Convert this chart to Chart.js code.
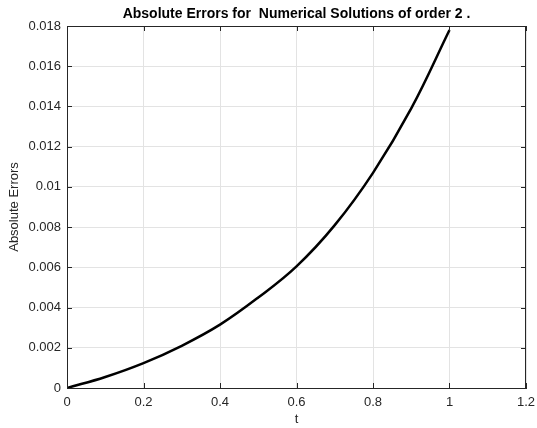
<!DOCTYPE html>
<html lang="en">
<head>
  <meta charset="UTF-8">
  <title>Absolute Errors</title>
  <style>
    body { margin: 0; background: #fff; }
    #wrap { width: 537px; height: 428px; }
  </style>
</head>
<body>
  <div id="wrap"><canvas id="grafico"></canvas></div>
  <script src="https://cdn.jsdelivr.net/npm/chart.js"></script>
  <script>
    // valores
    const tempos = [0, 0.1, 0.2, 0.3, 0.4, 0.5, 0.6, 0.7, 0.8, 0.9, 1.0];
    const erros = [0, 0.00055, 0.00124, 0.0021, 0.00315, 0.0045, 0.00605, 0.0081, 0.0107, 0.0139, 0.0178];
    const rotulosX = ['0', '0.2', '0.4', '0.6', '0.8', '1', '1.2'];
    const rotulosY = ['0', '0.002', '0.004', '0.006', '0.008', '0.01', '0.012', '0.014', '0.016', '0.018'];
    const titulo = 'Absolute Errors for  Numerical Solutions of order 2 .';

    const corEixo = '#262626';
    const fonte = 'Liberation Sans, Arial, sans-serif';

    // caixa, marcas internas e título estilo matlab
    const caixaMatlab = {
      id: 'caixaMatlab',
      afterDraw(chart) {
        const { ctx, chartArea: a, scales } = chart;
        ctx.save();
        ctx.strokeStyle = corEixo;
        ctx.lineWidth = 1;
        ctx.strokeRect(a.left + 0.5, a.top + 0.5, a.right - a.left - 1, a.bottom - a.top);
        ctx.beginPath();
        scales.x.ticks.forEach(t => {
          const px = Math.round(scales.x.getPixelForValue(t.value)) + 0.5;
          ctx.moveTo(px, a.bottom); ctx.lineTo(px, a.bottom - 5);
          ctx.moveTo(px, a.top); ctx.lineTo(px, a.top + 5);
        });
        scales.y.ticks.forEach(t => {
          const py = Math.round(scales.y.getPixelForValue(t.value)) + 0.5;
          ctx.moveTo(a.left, py); ctx.lineTo(a.left + 5, py);
          ctx.moveTo(a.right, py); ctx.lineTo(a.right - 5, py);
        });
        ctx.stroke();
        ctx.fillStyle = '#000';
        ctx.font = 'bold 14px ' + fonte;
        ctx.textAlign = 'center';
        ctx.textBaseline = 'middle';
        ctx.fillText(titulo, (a.left + a.right) / 2, a.top - 12);
        ctx.restore();
      }
    };

    new Chart(document.getElementById('grafico'), {
      type: 'line',
      data: {
        datasets: [{
          data: tempos.map((t, i) => ({ x: t, y: erros[i] })),
          borderColor: '#000',
          borderWidth: 2.5,
          pointRadius: 0,
          tension: 0.4,
          fill: false
        }]
      },
      options: {
        responsive: true,
        maintainAspectRatio: false,
        animation: false,
        layout: { padding: { top: 26, right: 11 } },
        plugins: { legend: { display: false }, tooltip: { enabled: false } },
        scales: {
          x: {
            type: 'linear', min: 0, max: 1.2,
            ticks: { stepSize: 0.2, color: corEixo, font: { family: fonte, size: 13 }, padding: 7,
              callback: (v, i) => rotulosX[i] },
            grid: { color: '#e3e3e3', drawTicks: false },
            border: { color: corEixo },
            title: { display: true, text: 't', color: corEixo, font: { family: fonte, size: 13 }, padding: { top: 0, bottom: 1 } },
            afterFit: s => { s.height = 40; s.paddingLeft = 0; s.paddingRight = 0; }
          },
          y: {
            min: 0, max: 0.018,
            ticks: { stepSize: 0.002, color: corEixo, font: { family: fonte, size: 13 }, padding: 6,
              callback: (v, i) => rotulosY[i] },
            grid: { color: '#e3e3e3', drawTicks: false },
            border: { color: corEixo },
            title: { display: true, text: 'Absolute Errors', color: corEixo, font: { family: fonte, size: 13 }, padding: { top: 7 } },
            afterFit: s => { s.width = 67; }
          }
        }
      },
      plugins: [caixaMatlab]
    });
  </script>
</body>
</html>
